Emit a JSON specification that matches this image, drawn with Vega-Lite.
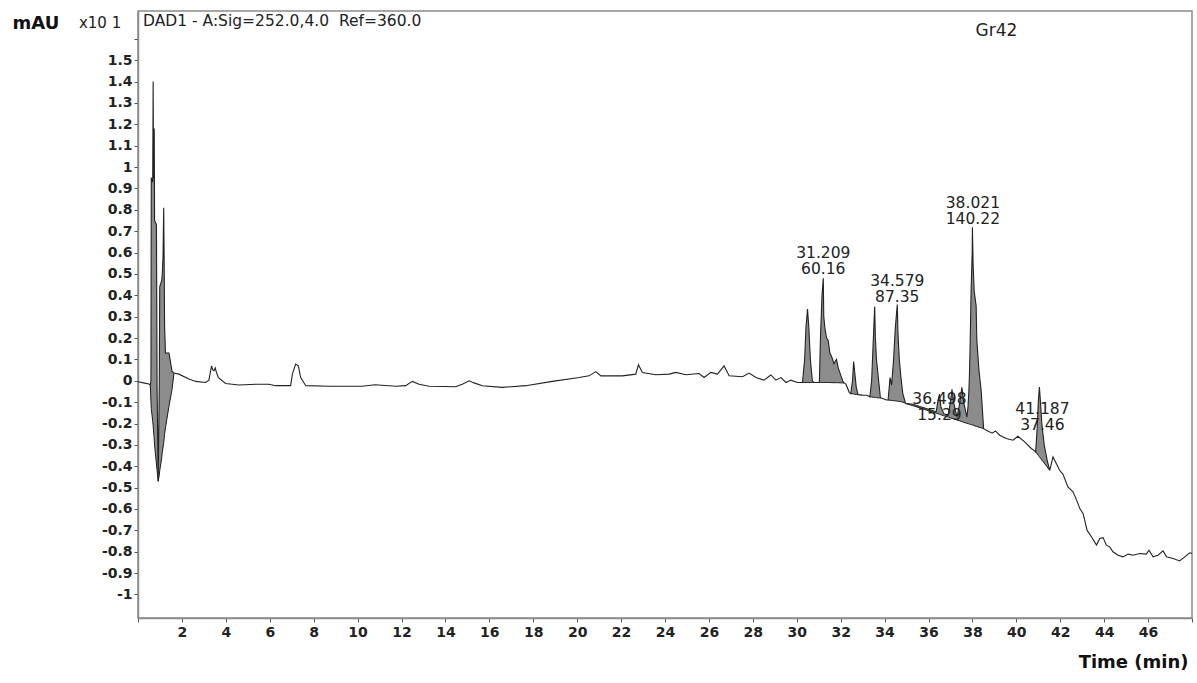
{
  "$schema": "https://vega.github.io/schema/vega-lite/v6.json",
  "width": 1054,
  "height": 607,
  "autosize": {"type": "none"},
  "padding": {"left": 138, "top": 11, "right": 5, "bottom": 65},
  "background": "white",
  "config": {
    "view": {"stroke": "#8a8a8a", "strokeWidth": 1.5},
    "axis": {
      "grid": false,
      "domainColor": "#8a8a8a",
      "domainWidth": 1.5,
      "tickColor": "#555555",
      "tickSize": 4,
      "labelOverlap": false,
      "labelFont": "DejaVu Sans",
      "labelFontWeight": "bold",
      "labelColor": "#222222",
      "titleFont": "DejaVu Sans",
      "titleFontWeight": "bold",
      "titleColor": "#111111"
    }
  },
  "datasets": {
    "trace": [
      {"t": 0.00, "v": -0.005},
      {"t": 0.25, "v": -0.010},
      {"t": 0.50, "v": -0.015},
      {"t": 0.56, "v": -0.020, "b": -0.020, "g": "A"},
      {"t": 0.59, "v": 0.000, "b": -0.100, "g": "A"},
      {"t": 0.605, "v": 0.950, "b": -0.130, "g": "A"},
      {"t": 0.67, "v": 0.930, "b": -0.190, "g": "A"},
      {"t": 0.69, "v": 1.400, "b": -0.210, "g": "A"},
      {"t": 0.705, "v": 0.950, "b": -0.230, "g": "A"},
      {"t": 0.73, "v": 0.950, "b": -0.260, "g": "A"},
      {"t": 0.74, "v": 1.180, "b": -0.280, "g": "A"},
      {"t": 0.755, "v": 0.750, "b": -0.300, "g": "A"},
      {"t": 0.84, "v": 0.730, "b": -0.390, "g": "A"},
      {"t": 0.87, "v": -0.050, "b": -0.420, "g": "A"},
      {"t": 0.92, "v": -0.470, "b": -0.470, "g": "A"},
      {"t": 0.97, "v": 0.000, "b": -0.440, "g": "A"},
      {"t": 0.99, "v": 0.440, "b": -0.420, "g": "A"},
      {"t": 1.08, "v": 0.470, "b": -0.360, "g": "A"},
      {"t": 1.10, "v": 0.490, "b": -0.340, "g": "A"},
      {"t": 1.14, "v": 0.580, "b": -0.310, "g": "A"},
      {"t": 1.17, "v": 0.810, "b": -0.290, "g": "A"},
      {"t": 1.19, "v": 0.580, "b": -0.270, "g": "A"},
      {"t": 1.21, "v": 0.260, "b": -0.250, "g": "A"},
      {"t": 1.25, "v": 0.130, "b": -0.220, "g": "A"},
      {"t": 1.41, "v": 0.130, "b": -0.120, "g": "A"},
      {"t": 1.55, "v": 0.045, "b": -0.040, "g": "A"},
      {"t": 1.64, "v": 0.036, "b": 0.036, "g": "A"},
      {"t": 1.86, "v": 0.031},
      {"t": 2.32, "v": 0.008},
      {"t": 2.63, "v": -0.003},
      {"t": 3.08, "v": -0.008},
      {"t": 3.23, "v": 0.003},
      {"t": 3.35, "v": 0.070},
      {"t": 3.41, "v": 0.050},
      {"t": 3.46, "v": 0.047},
      {"t": 3.52, "v": 0.060},
      {"t": 3.56, "v": 0.043},
      {"t": 3.66, "v": 0.015},
      {"t": 3.99, "v": -0.013},
      {"t": 4.60, "v": -0.020},
      {"t": 5.36, "v": -0.016},
      {"t": 5.96, "v": -0.016},
      {"t": 6.27, "v": -0.023},
      {"t": 6.95, "v": -0.023},
      {"t": 7.03, "v": 0.031},
      {"t": 7.18, "v": 0.078},
      {"t": 7.30, "v": 0.070},
      {"t": 7.41, "v": 0.015},
      {"t": 7.64, "v": -0.023},
      {"t": 8.70, "v": -0.026},
      {"t": 10.20, "v": -0.026},
      {"t": 10.80, "v": -0.019},
      {"t": 11.74, "v": -0.026},
      {"t": 12.19, "v": -0.023},
      {"t": 12.49, "v": -0.003},
      {"t": 12.80, "v": -0.016},
      {"t": 13.25, "v": -0.026},
      {"t": 14.47, "v": -0.028},
      {"t": 14.77, "v": -0.016},
      {"t": 15.08, "v": 0.000},
      {"t": 15.30, "v": -0.010},
      {"t": 15.68, "v": -0.023},
      {"t": 16.59, "v": -0.031},
      {"t": 17.66, "v": -0.023},
      {"t": 18.87, "v": -0.003},
      {"t": 20.09, "v": 0.015},
      {"t": 20.54, "v": 0.023},
      {"t": 20.85, "v": 0.043},
      {"t": 21.08, "v": 0.023},
      {"t": 22.06, "v": 0.023},
      {"t": 22.67, "v": 0.031},
      {"t": 22.79, "v": 0.075},
      {"t": 22.97, "v": 0.039},
      {"t": 23.58, "v": 0.028},
      {"t": 24.19, "v": 0.031},
      {"t": 24.49, "v": 0.039},
      {"t": 24.95, "v": 0.028},
      {"t": 25.55, "v": 0.034},
      {"t": 25.78, "v": 0.015},
      {"t": 26.09, "v": 0.039},
      {"t": 26.39, "v": 0.031},
      {"t": 26.69, "v": 0.070},
      {"t": 26.92, "v": 0.023},
      {"t": 27.53, "v": 0.019},
      {"t": 27.83, "v": 0.036},
      {"t": 28.14, "v": 0.015},
      {"t": 28.51, "v": 0.003},
      {"t": 28.82, "v": 0.027},
      {"t": 29.05, "v": 0.003},
      {"t": 29.28, "v": 0.015},
      {"t": 29.51, "v": -0.008},
      {"t": 29.73, "v": 0.003},
      {"t": 30.03, "v": -0.008},
      {"t": 30.26, "v": -0.008, "b": -0.008, "g": "B"},
      {"t": 30.36, "v": 0.100, "b": -0.008, "g": "B"},
      {"t": 30.42, "v": 0.250, "b": -0.008, "g": "B"},
      {"t": 30.49, "v": 0.335, "b": -0.008, "g": "B"},
      {"t": 30.55, "v": 0.250, "b": -0.008, "g": "B"},
      {"t": 30.62, "v": 0.100, "b": -0.008, "g": "B"},
      {"t": 30.71, "v": 0.000, "b": -0.008, "g": "B"},
      {"t": 30.78, "v": -0.008, "b": -0.008, "g": "B"},
      {"t": 31.03, "v": -0.008, "b": -0.008, "g": "B"},
      {"t": 31.08, "v": 0.200, "b": -0.008, "g": "B"},
      {"t": 31.15, "v": 0.400, "b": -0.008, "g": "B"},
      {"t": 31.209, "v": 0.480, "b": -0.008, "g": "B"},
      {"t": 31.23, "v": 0.300, "b": -0.008, "g": "B"},
      {"t": 31.29, "v": 0.240, "b": -0.008, "g": "B"},
      {"t": 31.36, "v": 0.200, "b": -0.008, "g": "B"},
      {"t": 31.43, "v": 0.190, "b": -0.008, "g": "B"},
      {"t": 31.51, "v": 0.130, "b": -0.008, "g": "B"},
      {"t": 31.60, "v": 0.110, "b": -0.009, "g": "B"},
      {"t": 31.69, "v": 0.080, "b": -0.009, "g": "B"},
      {"t": 31.81, "v": 0.100, "b": -0.009, "g": "B"},
      {"t": 31.89, "v": 0.060, "b": -0.009, "g": "B"},
      {"t": 31.99, "v": 0.030, "b": -0.010, "g": "B"},
      {"t": 32.09, "v": 0.000, "b": -0.010, "g": "B"},
      {"t": 32.16, "v": -0.010, "b": -0.010, "g": "B"},
      {"t": 32.24, "v": -0.016},
      {"t": 32.39, "v": -0.054},
      {"t": 32.46, "v": -0.060, "b": -0.060, "g": "C"},
      {"t": 32.54, "v": 0.000, "b": -0.061, "g": "C"},
      {"t": 32.59, "v": 0.090, "b": -0.062, "g": "C"},
      {"t": 32.64, "v": 0.040, "b": -0.063, "g": "C"},
      {"t": 32.71, "v": -0.030, "b": -0.064, "g": "C"},
      {"t": 32.79, "v": -0.065, "b": -0.065, "g": "C"},
      {"t": 33.00, "v": -0.067},
      {"t": 33.20, "v": -0.068},
      {"t": 33.33, "v": -0.075, "b": -0.075, "g": "D"},
      {"t": 33.41, "v": 0.000, "b": -0.076, "g": "D"},
      {"t": 33.47, "v": 0.150, "b": -0.077, "g": "D"},
      {"t": 33.51, "v": 0.250, "b": -0.077, "g": "D"},
      {"t": 33.55, "v": 0.347, "b": -0.078, "g": "D"},
      {"t": 33.58, "v": 0.200, "b": -0.078, "g": "D"},
      {"t": 33.63, "v": 0.100, "b": -0.079, "g": "D"},
      {"t": 33.71, "v": 0.020, "b": -0.080, "g": "D"},
      {"t": 33.81, "v": -0.080, "b": -0.080, "g": "D"},
      {"t": 33.98, "v": -0.085},
      {"t": 34.08, "v": -0.090},
      {"t": 34.16, "v": -0.090, "b": -0.090, "g": "E"},
      {"t": 34.25, "v": 0.015, "b": -0.091, "g": "E"},
      {"t": 34.32, "v": -0.020, "b": -0.092, "g": "E"},
      {"t": 34.41, "v": 0.100, "b": -0.093, "g": "E"},
      {"t": 34.49, "v": 0.250, "b": -0.094, "g": "E"},
      {"t": 34.579, "v": 0.357, "b": -0.095, "g": "E"},
      {"t": 34.61, "v": 0.220, "b": -0.096, "g": "E"},
      {"t": 34.67, "v": 0.100, "b": -0.097, "g": "E"},
      {"t": 34.74, "v": 0.020, "b": -0.098, "g": "E"},
      {"t": 34.83, "v": -0.060, "b": -0.100, "g": "E"},
      {"t": 34.95, "v": -0.105, "b": -0.105, "g": "E"},
      {"t": 34.99, "v": -0.107, "b": -0.107, "g": "F"},
      {"t": 35.30, "v": -0.110, "b": -0.117, "g": "F"},
      {"t": 35.60, "v": -0.120, "b": -0.127, "g": "F"},
      {"t": 35.90, "v": -0.130, "b": -0.137, "g": "F"},
      {"t": 36.20, "v": -0.140, "b": -0.147, "g": "F"},
      {"t": 36.35, "v": -0.145, "b": -0.152, "g": "F"},
      {"t": 36.42, "v": -0.100, "b": -0.154, "g": "F"},
      {"t": 36.498, "v": -0.062, "b": -0.157, "g": "F"},
      {"t": 36.56, "v": -0.120, "b": -0.159, "g": "F"},
      {"t": 36.70, "v": -0.155, "b": -0.164, "g": "F"},
      {"t": 36.90, "v": -0.160, "b": -0.170, "g": "F"},
      {"t": 37.00, "v": -0.100, "b": -0.174, "g": "F"},
      {"t": 37.07, "v": -0.040, "b": -0.176, "g": "F"},
      {"t": 37.14, "v": -0.100, "b": -0.178, "g": "F"},
      {"t": 37.30, "v": -0.170, "b": -0.184, "g": "F"},
      {"t": 37.43, "v": -0.100, "b": -0.188, "g": "F"},
      {"t": 37.52, "v": -0.031, "b": -0.191, "g": "F"},
      {"t": 37.60, "v": -0.100, "b": -0.194, "g": "F"},
      {"t": 37.75, "v": -0.170, "b": -0.199, "g": "F"},
      {"t": 37.80, "v": -0.120, "b": -0.200, "g": "F"},
      {"t": 37.84, "v": -0.047, "b": -0.202, "g": "F"},
      {"t": 37.87, "v": 0.047, "b": -0.203, "g": "F"},
      {"t": 37.90, "v": 0.190, "b": -0.204, "g": "F"},
      {"t": 37.94, "v": 0.420, "b": -0.205, "g": "F"},
      {"t": 37.99, "v": 0.600, "b": -0.207, "g": "F"},
      {"t": 38.00, "v": 0.718, "b": -0.207, "g": "F"},
      {"t": 38.03, "v": 0.550, "b": -0.208, "g": "F"},
      {"t": 38.08, "v": 0.420, "b": -0.210, "g": "F"},
      {"t": 38.17, "v": 0.350, "b": -0.213, "g": "F"},
      {"t": 38.20, "v": 0.190, "b": -0.214, "g": "F"},
      {"t": 38.30, "v": 0.047, "b": -0.217, "g": "F"},
      {"t": 38.40, "v": -0.047, "b": -0.220, "g": "F"},
      {"t": 38.51, "v": -0.224, "b": -0.224, "g": "F"},
      {"t": 38.70, "v": -0.235},
      {"t": 38.90, "v": -0.245},
      {"t": 39.05, "v": -0.235},
      {"t": 39.24, "v": -0.255},
      {"t": 39.54, "v": -0.270},
      {"t": 39.85, "v": -0.278},
      {"t": 40.07, "v": -0.260},
      {"t": 40.38, "v": -0.286},
      {"t": 40.68, "v": -0.317},
      {"t": 40.83, "v": -0.328},
      {"t": 40.88, "v": -0.333, "b": -0.333, "g": "G"},
      {"t": 40.95, "v": -0.220, "b": -0.342, "g": "G"},
      {"t": 41.00, "v": -0.100, "b": -0.349, "g": "G"},
      {"t": 41.05, "v": -0.029, "b": -0.356, "g": "G"},
      {"t": 41.10, "v": -0.100, "b": -0.362, "g": "G"},
      {"t": 41.16, "v": -0.200, "b": -0.371, "g": "G"},
      {"t": 41.27, "v": -0.300, "b": -0.385, "g": "G"},
      {"t": 41.40, "v": -0.370, "b": -0.403, "g": "G"},
      {"t": 41.52, "v": -0.419, "b": -0.419, "g": "G"},
      {"t": 41.67, "v": -0.356},
      {"t": 41.82, "v": -0.387},
      {"t": 41.97, "v": -0.419},
      {"t": 42.12, "v": -0.437},
      {"t": 42.35, "v": -0.497},
      {"t": 42.58, "v": -0.520},
      {"t": 42.81, "v": -0.575},
      {"t": 42.89, "v": -0.598},
      {"t": 43.04, "v": -0.621},
      {"t": 43.22, "v": -0.699},
      {"t": 43.42, "v": -0.730},
      {"t": 43.65, "v": -0.769},
      {"t": 43.80, "v": -0.738},
      {"t": 43.95, "v": -0.734},
      {"t": 44.10, "v": -0.769},
      {"t": 44.25, "v": -0.777},
      {"t": 44.40, "v": -0.800},
      {"t": 44.63, "v": -0.816},
      {"t": 44.86, "v": -0.824},
      {"t": 45.09, "v": -0.811},
      {"t": 45.31, "v": -0.816},
      {"t": 45.62, "v": -0.808},
      {"t": 45.92, "v": -0.811},
      {"t": 46.04, "v": -0.793},
      {"t": 46.23, "v": -0.824},
      {"t": 46.45, "v": -0.816},
      {"t": 46.68, "v": -0.796},
      {"t": 46.84, "v": -0.824},
      {"t": 47.14, "v": -0.832},
      {"t": 47.44, "v": -0.843},
      {"t": 47.67, "v": -0.824},
      {"t": 47.90, "v": -0.805},
      {"t": 48.00, "v": -0.808}
    ],
    "peaks": [
      {"rt": 31.209, "area": 60.16, "ly": 0.558},
      {"rt": 34.579, "area": 87.35, "ly": 0.430},
      {"rt": 36.498, "area": 15.29, "ly": -0.123},
      {"rt": 38.021, "area": 140.22, "ly": 0.793},
      {"rt": 41.187, "area": 37.46, "ly": -0.169}
    ]
  },
  "layer": [
    {
      "data": {"name": "trace"},
      "transform": [{"filter": "isValid(datum.b)"}],
      "mark": {"type": "area", "fill": "#8c8c8c", "fillOpacity": 1, "stroke": null},
      "encoding": {
        "x": {"field": "t", "type": "quantitative"},
        "y": {"field": "v", "type": "quantitative"},
        "y2": {"field": "b"},
        "detail": {"field": "g"}
      }
    },
    {
      "data": {"name": "trace"},
      "transform": [{"filter": "isValid(datum.b)"}],
      "mark": {"type": "line", "color": "#1a1a1a", "strokeWidth": 1},
      "encoding": {
        "x": {"field": "t", "type": "quantitative"},
        "y": {"field": "b", "type": "quantitative"},
        "detail": {"field": "g"}
      }
    },
    {
      "data": {"name": "trace"},
      "mark": {"type": "line", "color": "#222222", "strokeWidth": 1.1},
      "encoding": {
        "x": {
          "field": "t",
          "type": "quantitative",
          "scale": {"domain": [0, 48], "nice": false, "zero": false},
          "axis": {
            "values": [0, 2, 4, 6, 8, 10, 12, 14, 16, 18, 20, 22, 24, 26, 28, 30, 32, 34, 36, 38, 40, 42, 44, 46, 48],
            "tickCount": 100,
            "labelExpr": "datum.value == 0 || datum.value == 48 ? '' : '' + datum.value",
            "labelOverlap": false,
            "labelFontSize": 14,
            "labelPadding": 3,
            "title": "Time (min)",
            "titleFontSize": 18,
            "titleAlign": "right",
            "titleBaseline": "middle",
            "titleAnchor": "end",
            "titleX": 1050,
            "titleY": 44
          }
        },
        "y": {
          "field": "v",
          "type": "quantitative",
          "scale": {"domain": [-1.11, 1.73], "nice": false, "zero": false},
          "axis": {
            "values": [-1, -0.9, -0.8, -0.7, -0.6, -0.5, -0.4, -0.3, -0.2, -0.1, 0, 0.1, 0.2, 0.3, 0.4, 0.5, 0.6, 0.7, 0.8, 0.9, 1, 1.1, 1.2, 1.3, 1.4, 1.5, 1.6],
            "tickCount": 100,
            "labelExpr": "datum.value > 1.55 ? '' : '' + datum.value",
            "labelOverlap": false,
            "labelFontSize": 14,
            "labelPadding": 2,
            "title": "mAU",
            "titleFontSize": 18,
            "titleAngle": 0,
            "titleAlign": "left",
            "titleBaseline": "middle",
            "titleX": -126,
            "titleY": 12
          }
        }
      }
    },
    {
      "data": {"name": "peaks"},
      "mark": {"type": "text", "font": "DejaVu Sans", "fontSize": 15.5, "color": "#222222", "align": "center", "baseline": "middle", "dy": -8},
      "encoding": {
        "x": {"field": "rt", "type": "quantitative"},
        "y": {"field": "ly", "type": "quantitative"},
        "text": {"field": "rt", "type": "quantitative", "format": ".3f"}
      }
    },
    {
      "data": {"name": "peaks"},
      "mark": {"type": "text", "font": "DejaVu Sans", "fontSize": 15.5, "color": "#222222", "align": "center", "baseline": "middle", "dy": 8},
      "encoding": {
        "x": {"field": "rt", "type": "quantitative"},
        "y": {"field": "ly", "type": "quantitative"},
        "text": {"field": "area", "type": "quantitative", "format": ".2f"}
      }
    },
    {
      "data": {"values": [{"label": "x10 1"}]},
      "mark": {"type": "text", "font": "DejaVu Sans", "fontSize": 15, "color": "#222222", "align": "left", "baseline": "middle"},
      "encoding": {
        "x": {"datum": -2.69, "type": "quantitative"},
        "y": {"datum": 1.672, "type": "quantitative"},
        "text": {"field": "label"}
      }
    },
    {
      "data": {"values": [{"label": "DAD1 - A:Sig=252.0,4.0\u00a0\u00a0Ref=360.0"}]},
      "mark": {"type": "text", "font": "DejaVu Sans", "fontSize": 15.5, "color": "#222222", "align": "left", "baseline": "middle"},
      "encoding": {
        "x": {"datum": 0.23, "type": "quantitative"},
        "y": {"datum": 1.681, "type": "quantitative"},
        "text": {"field": "label"}
      }
    },
    {
      "data": {"values": [{"label": "Gr42"}]},
      "mark": {"type": "text", "font": "DejaVu Sans", "fontSize": 17, "color": "#222222", "align": "left", "baseline": "middle"},
      "encoding": {
        "x": {"datum": 38.14, "type": "quantitative"},
        "y": {"datum": 1.635, "type": "quantitative"},
        "text": {"field": "label"}
      }
    }
  ]
}
